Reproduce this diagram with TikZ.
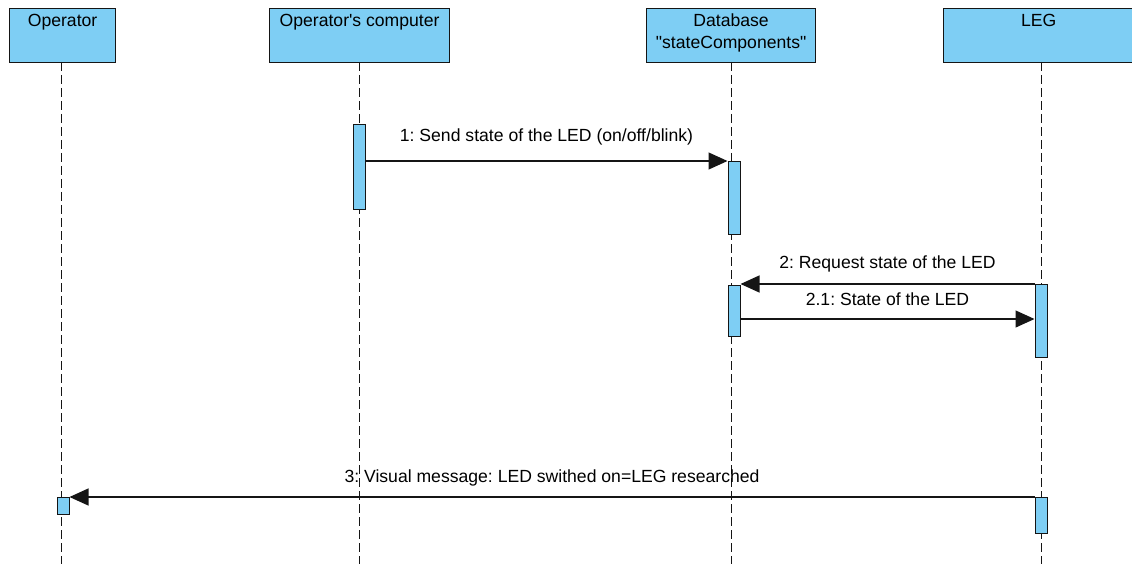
\documentclass[tikz,border=0pt]{standalone}
\usepackage{fontspec}
\setmainfont{Liberation Sans}[Ligatures=TeXOff]
\usetikzlibrary{arrows.meta}
\definecolor{actblue}{HTML}{7ECEF4}
\definecolor{edge}{HTML}{151515}
\tikzset{
  headbox/.style={draw=edge, line width=1.2pt, fill=actblue, inner sep=0pt, minimum height=54pt, anchor=north west},
  headtxt/.style={anchor=north, inner sep=0pt, align=center, font=\fontsize{17.6}{22}\selectfont\frenchspacing},
  actbar/.style={draw=edge, line width=1pt, fill=actblue, inner sep=0pt, minimum width=12pt, anchor=north},
  lifeline/.style={draw=edge, line width=1pt, dash pattern=on 9pt off 4pt},
  msg/.style={draw=edge, line width=1.2pt, -{Triangle[length=19pt, width=17pt]}},
  msgtxt/.style={font=\fontsize{17.6}{20}\selectfont\frenchspacing, inner sep=0pt}
}
\begin{document}
\begin{tikzpicture}[x=1pt, y=-1pt]
\useasboundingbox (0,0) rectangle (1132,564);
% heads
\node[headbox, minimum width=106pt] (hop) at (9,8) {};
\node[headtxt] at ([yshift=-6pt]hop.north) {Operator};
\node[headbox, minimum width=180pt] (hpc) at (269,8) {};
\node[headtxt] at ([yshift=-6pt]hpc.north) {Operator's computer};
\node[headbox, minimum width=169pt] (hdb) at (646,8) {};
\node[headtxt] at ([yshift=-6pt]hdb.north) {Database\\"stateComponents"};
\node[headbox, minimum width=190pt] (hleg) at (943,8) {};
\node[headtxt] at ([yshift=-6pt]hleg.north) {LEG};
% lifeline anchors
\coordinate (lop) at (61,62);
\coordinate (lpc) at (359,62);
\coordinate (ldb) at (731,62);
\coordinate (lleg) at (1041,62);
\draw[lifeline] (lop) -- (lop |- 0,564);
\draw[lifeline] (lpc) -- (lpc |- 0,564);
\draw[lifeline] (ldb) -- (ldb |- 0,564);
\draw[lifeline] (lleg) -- (lleg |- 0,564);
% activation bars
\node[actbar, minimum height=85pt] (pc1) at (359,124) {};
\node[actbar, minimum height=73pt] (db1) at (734,161) {};
\node[actbar, minimum height=51pt] (db2) at (734,285) {};
\node[actbar, minimum height=73pt] (leg1) at (1041,284) {};
\node[actbar, minimum height=17pt] (op1) at (63,497) {};
\node[actbar, minimum height=36pt] (leg2) at (1041,497) {};
% messages
\draw[msg] (pc1.east |- db1.north) -- (db1.north west)
  node[msgtxt, midway, yshift=24pt] {1: Send state of the LED (on/off/blink)};
\draw[msg] (leg1.north west) -- (leg1.north west -| db2.east)
  node[msgtxt, midway, yshift=20pt] {2: Request state of the LED};
\draw[msg] (db2.east |- 0,319) -- (leg1.west |- 0,319)
  node[msgtxt, midway, yshift=20pt] {2.1: State of the LED};
\draw[msg] (leg2.north west) -- (op1.north east)
  node[msgtxt, midway, yshift=19pt] {3: Visual message: LED swithed on=LEG researched};
\end{tikzpicture}
\end{document}
